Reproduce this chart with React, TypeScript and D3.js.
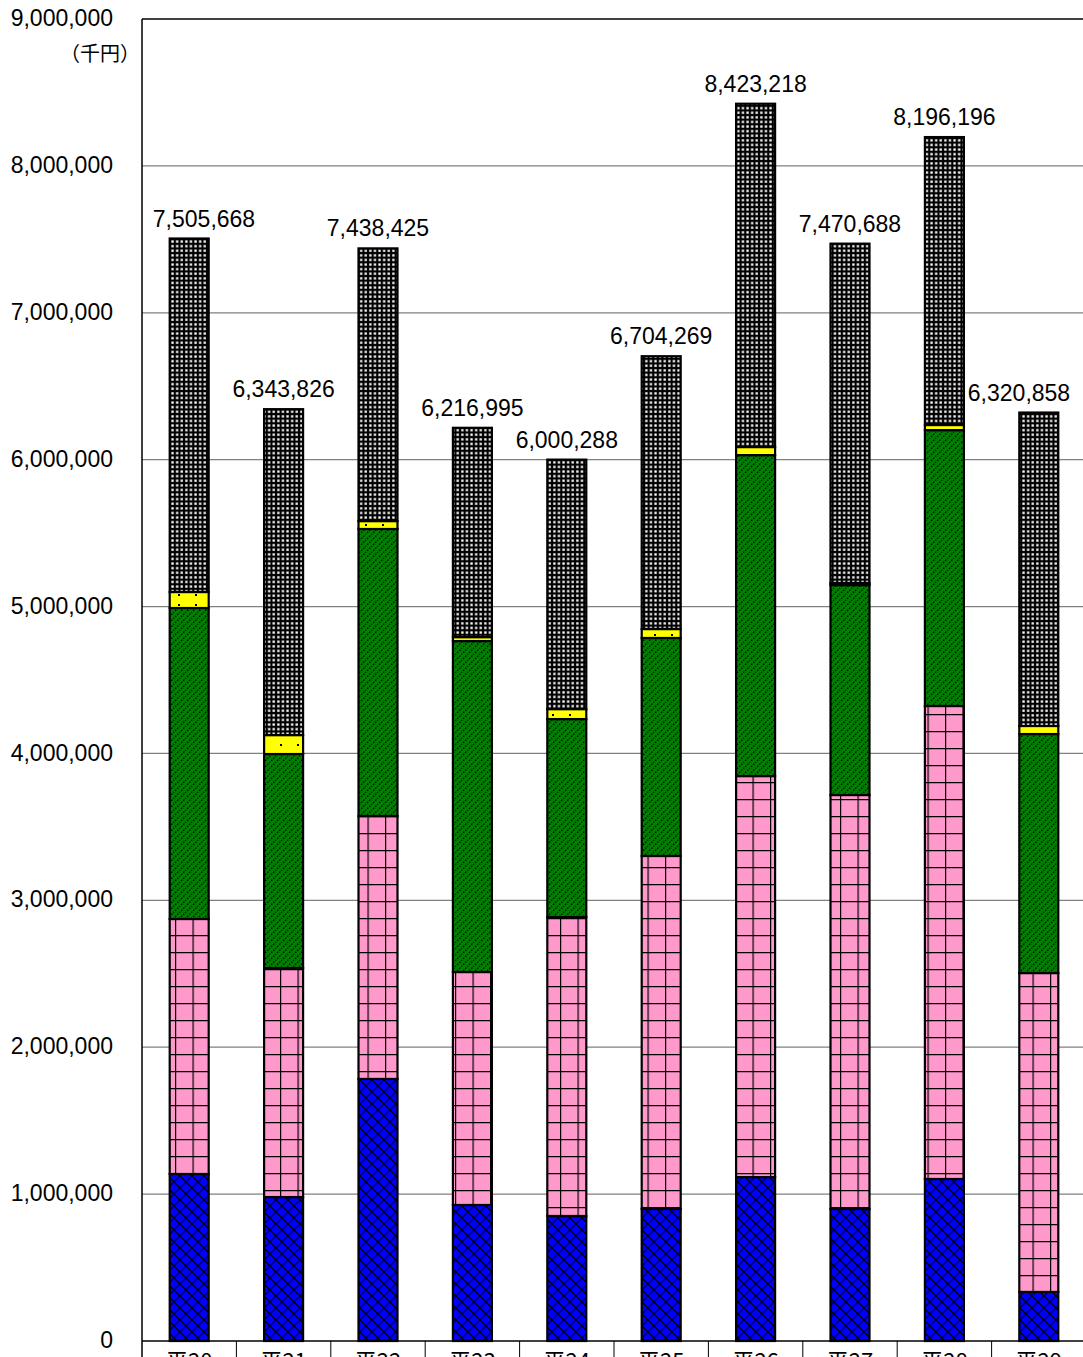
import React from "react";
import * as d3 from "d3";

const categories = ["平20", "平21", "平22", "平23", "平24", "平25", "平26", "平27", "平28", "平29"];
const totals = [7505668, 6343826, 7438425, 6216995, 6000288, 6704269, 8423218, 7470688, 8196196, 6320858];
const seriesBlue = [1137000, 980000, 1784000, 926000, 851000, 899000, 1116000, 899000, 1103000, 334000];
const seriesPink = [1736000, 1559000, 1790000, 1586000, 2035000, 2403000, 2730000, 2818000, 3220000, 2171000];
const seriesGreen = [2117000, 1457000, 1954000, 2253000, 1348000, 1484000, 2185000, 1429000, 1878000, 1627000];
const seriesYellow = [109000, 129000, 54000, 27000, 68000, 61000, 55000, 14000, 35000, 55000];
const seriesDark = [2406668, 2218826, 1856425, 1424995, 1698288, 1857269, 2337218, 2310688, 1960196, 2133858];
const yTicks = [0, 1000000, 2000000, 3000000, 4000000, 5000000, 6000000, 7000000, 8000000, 9000000];
const unitLabel = "（千円）";

const seriesKeys = ["blue", "pink", "green", "yellow", "dark"];
const fills: Record<string, string> = {
  blue: "url(#patBlue)",
  pink: "url(#patPink)",
  green: "url(#patGreen)",
  yellow: "url(#patYellow)",
  dark: "url(#patDark)",
};

const W = 1083;
const H = 1357;
const left = 142;
const right = 1086;
const top = 19;
const bottom = 1341;
const barW = 39;

export default function App() {
  const rows = categories.map((c, i) => ({
    cat: c,
    blue: seriesBlue[i],
    pink: seriesPink[i],
    green: seriesGreen[i],
    yellow: seriesYellow[i],
    dark: seriesDark[i],
    total: totals[i],
  }));
  const x = d3.scaleBand<string>().domain(categories).range([left, right]).padding(0);
  const y = d3.scaleLinear().domain([0, 9000000]).range([bottom, top]);
  const stack = d3.stack<any>().keys(seriesKeys);
  const layers = stack(rows);
  const fmt = d3.format(",");
  const labelW = 104;
  const numFont = "'Liberation Sans', Arial, sans-serif";
  const jpFont = "'Noto Sans CJK JP', sans-serif";

  return (
    <svg
      width={W}
      height={H}
      style={{ position: "absolute", left: 0, top: 0, background: "#fff" }}
    >
      <defs>
        <pattern id="patBlue" patternUnits="userSpaceOnUse" width={12} height={12}>
          <rect width={12} height={12} fill="#0000ff" />
          <path d="M-1,-1 L13,13 M13,-1 L-1,13" stroke="#000" strokeWidth={1.2} />
        </pattern>
        <pattern id="patPink" patternUnits="userSpaceOnUse" width={17.5} height={17}>
          <rect width={17.5} height={17} fill="#ff99cc" />
          <path d="M0,0 L17.5,0 M0,0 L0,17" stroke="#000" strokeWidth={2.4} />
        </pattern>
        <pattern id="patGreen" patternUnits="userSpaceOnUse" width={6} height={6}>
          <rect width={6} height={6} fill="#008000" />
          <path d="M-1,7 L7,-1 M-1,1 L1,-1 M5,7 L7,5" stroke="#000" strokeWidth={1.2} strokeDasharray="1.6 1.4" />
        </pattern>
        <pattern id="patYellow" patternUnits="userSpaceOnUse" width={17} height={10}>
          <rect width={17} height={10} fill="#ffff00" />
          <rect x={8} y={4} width={2} height={2} fill="#000" />
        </pattern>
        <pattern id="patDark" patternUnits="userSpaceOnUse" width={4.6} height={4.6}>
          <rect width={4.6} height={4.6} fill="#000" />
          <rect x={1.2} y={1.2} width={2.3} height={2.3} fill="#fff" />
        </pattern>
      </defs>

      {/* gridlines */}
      {yTicks.slice(1, -1).map((t) => (
        <line key={t} x1={left} x2={W} y1={y(t)} y2={y(t)} stroke="#808080" strokeWidth={1.3} />
      ))}
      {/* top border */}
      <line x1={left} x2={W} y1={y(9000000)} y2={y(9000000)} stroke="#000" strokeWidth={1.5} />

      {/* bars */}
      {layers.map((layer) => (
        <g key={layer.key}>
          {layer.map((d, i) => {
            const cx = (x(categories[i]) as number) + x.bandwidth() / 2;
            return (
              <rect
                key={i}
                x={cx - barW / 2}
                y={y(d[1])}
                width={barW}
                height={Math.max(0, y(d[0]) - y(d[1]))}
                fill={fills[layer.key]}
                stroke="#000"
                strokeWidth={2.2}
              />
            );
          })}
        </g>
      ))}

      {/* axes */}
      <line x1={left} x2={left} y1={top} y2={H} stroke="#000" strokeWidth={1.5} />
      <line x1={left} x2={right} y1={bottom} y2={bottom} stroke="#000" strokeWidth={1.5} />
      {categories.map((c) => (
        <line
          key={c}
          x1={(x(c) as number) + x.bandwidth()}
          x2={(x(c) as number) + x.bandwidth()}
          y1={bottom}
          y2={H}
          stroke="#000"
          strokeWidth={1}
        />
      ))}

      {/* y labels */}
      {yTicks.map((t) => (
        <text
          key={t}
          x={113}
          y={y(t) + 1}
          textAnchor="end"
          dominantBaseline="middle"
          fontFamily={numFont}
          fontSize={23}
          fill="#000"
        >
          {fmt(t)}
        </text>
      ))}
      <text x={60} y={61} fontFamily={jpFont} fontSize={20} fill="#000">
        {unitLabel}
      </text>

      {/* category labels */}
      {categories.map((c) => (
        <text
          key={c}
          x={(x(c) as number) + x.bandwidth() / 2}
          y={1369}
          textAnchor="middle"
          fontFamily={jpFont}
          fontSize={22}
          fill="#000"
        >
          {c}
        </text>
      ))}

      {/* total labels */}
      {rows.map((r) => {
        const cx = (x(r.cat) as number) + x.bandwidth() / 2;
        const lx = Math.min(Math.max(cx, left + 10 + labelW / 2), W - 12 - labelW / 2);
        return (
          <text
            key={r.cat}
            x={lx}
            y={y(r.total) - 12}
            textAnchor="middle"
            fontFamily={numFont}
            fontSize={23}
            fill="#000"
          >
            {fmt(r.total)}
          </text>
        );
      })}
    </svg>
  );
}
